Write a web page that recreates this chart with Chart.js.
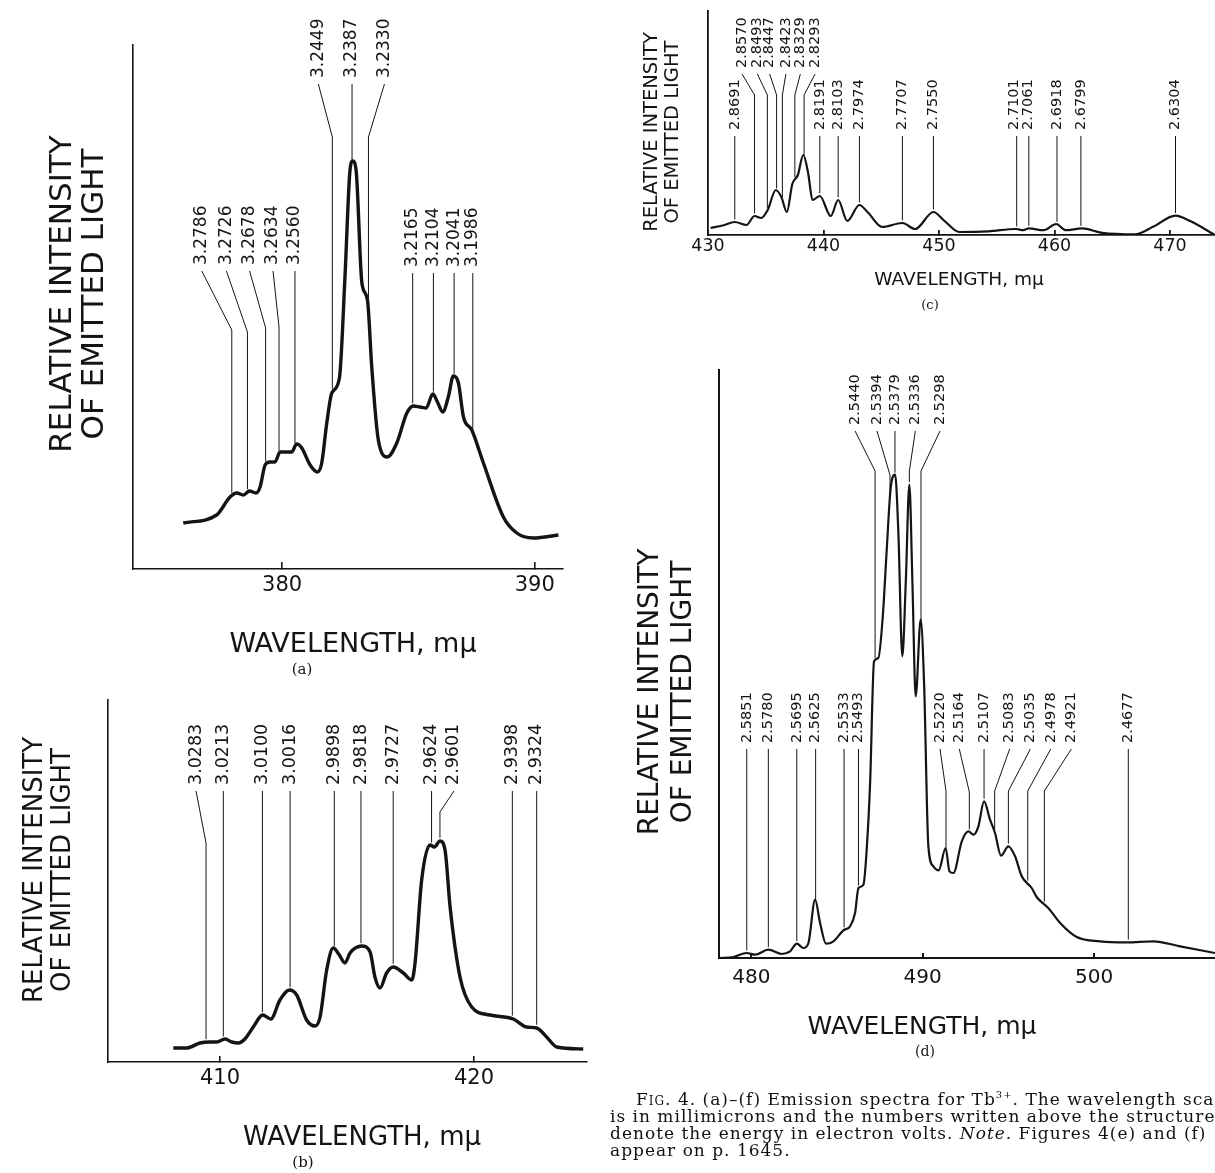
<!DOCTYPE html>
<html>
<head>
<meta charset="utf-8">
<script src="https://cdn.jsdelivr.net/npm/chart.js@4.4.1/dist/chart.umd.min.js"></script>
<style>
html, body { margin: 0; padding: 0; background: #fff; }
body { width: 1215px; height: 1173px; position: relative; overflow: hidden; }
canvas { position: absolute; left: 0; top: 0; }
#caption {
    position: absolute; left: 610px; top: 1091px;
    font-family: "DejaVu Serif"; font-size: 17px; line-height: 17px;
    letter-spacing: 1px; white-space: nowrap; color: #111;
}
#caption .sc { font-variant: small-caps; }
#caption sup { font-size: 10px; line-height: 0; }
</style>
</head>
<body>
<canvas id="chartA" width="1215" height="1173"></canvas>
<canvas id="chartB" width="1215" height="1173"></canvas>
<canvas id="chartC" width="1215" height="1173"></canvas>
<canvas id="chartD" width="1215" height="1173"></canvas>
<div id="caption">
<span style="padding-left:26px"></span><span class="sc">Fig.</span> 4. (a)–(f) Emission spectra for Tb<sup>3+</sup>. The wavelength scale<br>
is in millimicrons and the numbers written above the structure<br>
denote the energy in electron volts. <i>Note.</i> Figures 4(e) and (f)<br>
appear on p. 1645.
</div>
<script>
/*

Emission spectra of Tb3+, panels (a)-(d).
Wavelength in m\u03bc, intensity in arbitrary units.

*/

// Panel (a) data
const wlA = [376.09, 377.41, 377.94, 378.21, 378.47, 378.71, 378.97, 379.13, 379.33, 379.52, 379.72, 379.92, 380.19, 380.38, 380.58, 380.78, 381.11, 381.40, 381.57, 381.77, 381.97, 382.27, 382.49, 382.69, 382.80, 382.93, 383.16, 383.38, 383.55, 383.81, 384.17, 384.54, 384.94, 385.20, 385.46, 385.70, 385.97, 386.15, 386.36, 386.58, 386.78, 386.98, 387.18, 387.51, 387.97, 388.76, 389.29, 389.95, 390.94];
const intA = [46, 54, 72, 76, 74, 78, 76, 82, 104, 107, 107, 117, 117, 117, 125, 121, 104, 97, 106, 146, 176, 191, 292, 399, 408, 399, 286, 269, 202, 129, 112, 126, 156, 163, 162, 161, 175, 167, 157, 172, 193, 186, 152, 139, 106, 52, 36, 31, 34];
const ticksA = [380, 390];
const energyA = ['3.2786', '3.2726', '3.2678', '3.2634', '3.2560', '3.2449', '3.2387', '3.2330', '3.2165', '3.2104', '3.2041', '3.1986'];
const markA = [378.01, 378.63, 379.35, 379.88, 380.51, 381.99, 382.77, 383.42, 385.17, 385.99, 386.81, 387.55];

// Panel (b) data
const wlB = [408.16, 408.69, 409.21, 409.61, 409.87, 410.20, 410.46, 410.72, 410.98, 411.31, 411.68, 411.84, 412.00, 412.36, 412.73, 413.02, 413.41, 413.74, 413.94, 414.20, 414.46, 414.70, 414.92, 415.12, 415.58, 415.91, 416.10, 416.30, 416.56, 416.82, 417.22, 417.55, 417.68, 417.94, 418.27, 418.44, 418.66, 418.86, 419.06, 419.45, 419.91, 420.63, 421.55, 422.07, 422.47, 422.86, 423.26, 424.30];
const intB = [14, 14, 19, 20, 20, 23, 20, 19, 23, 35, 47, 45, 43, 62, 72, 67, 42, 36, 45, 92, 114, 107, 99, 109, 116, 110, 85, 74, 89, 95, 89, 82, 99, 182, 217, 215, 221, 212, 155, 85, 55, 47, 43, 35, 34, 25, 15, 13];
const ticksB = [410, 420];
const energyB = ['3.0283', '3.0213', '3.0100', '3.0016', '2.9898', '2.9818', '2.9727', '2.9624', '2.9601', '2.9398', '2.9324'];
const markB = [409.45, 410.13, 411.67, 412.76, 414.50, 415.55, 416.82, 418.33, 418.66, 421.51, 422.47];

// Panel (c) data
const wlC = [430.22, 431.27, 432.32, 433.33, 434.03, 434.60, 435.17, 435.87, 436.35, 436.83, 437.30, 437.78, 438.25, 438.67, 439.05, 439.68, 440.63, 441.27, 442.06, 443.11, 443.81, 445.08, 446.83, 447.94, 449.52, 450.48, 451.75, 454.29, 456.67, 457.30, 457.78, 459.05, 460.16, 460.95, 462.38, 464.13, 466.98, 468.57, 470.48, 471.75, 473.90];
const intC = [7, 9.5, 13, 10, 19, 17, 25, 45, 38, 23, 51, 60, 80, 62, 35, 39, 19, 35, 14, 30, 23, 8, 12, 6, 23, 14, 3, 3.7, 6, 4.8, 6.6, 4.8, 11, 4.8, 6.6, 2.2, 0.7, 8.4, 19.4, 13.9, 0];
const ticksC = [430, 440, 450, 460, 470];
const energyC = ['2.8691', '2.8570', '2.8493', '2.8447', '2.8423', '2.8329', '2.8293', '2.8191', '2.8103', '2.7974', '2.7707', '2.7550', '2.7101', '2.7061', '2.6918', '2.6799', '2.6304'];
const markC = [432.32, 434.03, 435.14, 435.94, 436.44, 437.52, 438.32, 439.68, 441.27, 443.11, 446.83, 449.52, 456.73, 457.78, 460.22, 462.29, 470.48];

// Panel (d) data
const wlD = [478.11, 478.95, 479.73, 480.21, 480.99, 481.77, 482.26, 482.65, 483.04, 483.33, 483.72, 484.01, 484.36, 484.79, 485.37, 485.76, 486.05, 486.25, 486.54, 486.73, 486.93, 487.16, 487.41, 487.67, 487.90, 488.13, 488.39, 488.58, 488.81, 489.01, 489.22, 489.40, 489.59, 489.88, 490.08, 490.33, 490.62, 490.93, 491.34, 491.56, 491.79, 492.28, 492.67, 492.96, 493.25, 493.58, 493.93, 494.22, 494.57, 495.00, 495.39, 495.78, 496.36, 496.65, 497.33, 498.02, 498.99, 500.35, 501.91, 503.46, 505.02, 507.06];
const intD = [0, 1, 5, 3.3, 8.3, 4, 6.7, 14.3, 10, 15, 58.3, 35, 14.3, 16.7, 27.7, 31.7, 45, 70, 73.3, 108.3, 175, 296.7, 300, 341.7, 408.3, 470, 483.3, 425, 301.7, 375, 473.3, 375, 261.7, 338.3, 275, 111.7, 91.7, 87.7, 110, 86.7, 85, 116.7, 126.7, 123.3, 131.7, 156.7, 138.3, 125, 102.3, 111.7, 101.7, 81.7, 70, 61, 50, 35, 21, 16.7, 15.7, 16.7, 11.7, 5];
const ticksD = [480, 490, 500];
const energyD = ['2.5851', '2.5780', '2.5695', '2.5625', '2.5533', '2.5493', '2.5440', '2.5394', '2.5379', '2.5336', '2.5298', '2.5220', '2.5164', '2.5107', '2.5083', '2.5035', '2.4978', '2.4921', '2.4677'];
const markD = [479.73, 480.99, 482.65, 483.75, 485.41, 486.25, 487.22, 488.09, 488.38, 489.22, 489.90, 491.36, 492.72, 493.58, 494.20, 495.00, 496.13, 497.10, 502.00];

// Label layout: text shift (px), text level and bend level (intensity units)
const dxA = [-30, -21, -16, -6, 0, -14, 0, 16, 0, 0, 0, 0];
const textA = [304, 304, 304, 304, 304, 491, 491, 491, 302, 302, 302, 302];
const bendA = [239, 237, 241, 242, null, 432, null, 432, null, null, null, null];

const dxB = [-10, 0, 0, 0, 0, 0, 0, 0, 14, 0, 0];
const textB = [277, 277, 277, 277, 277, 277, 277, 277, 277, 277, 277];
const bendB = [219, null, null, null, null, null, null, null, 250, null, null];

const dxC = [0, -12.5, -10, -7, 3.5, 5.5, 11, 0, 0, 0, 0, 0, -2, -1, 0, 0, 0];
const textC = [105, 167, 167, 167, 167, 167, 167, 105, 105, 105, 105, 105, 105, 105, 105, 105, 105];
const bendC = [null, 140, 140, 140, 140, 140, 140, null, null, null, null, null, null, null, null, null, null];

const dxD = [0, 0, 0, 0, 0, 0, -20, -13, 0, 6, 19, -6, -10, 0, 15, 22, 23, 27, 0];
const textD = [215, 215, 215, 215, 215, 215, 533, 533, 533, 533, 533, 215, 215, 215, 215, 215, 215, 215, 215];
const bendD = [null, null, null, null, null, null, 487, 483, null, 487, 487, 167, 166, null, 167, 167, 167, 167, null];

const INK = '#141414';

// value of the traced curve at a wavelength (for the foot of a leader line)
function curveAt(xs, ys, v) {
    for (let i = 1; i < xs.length; i++) {
        if (xs[i] >= v) {
            const t = (v - xs[i - 1]) / (xs[i] - xs[i - 1]);
            return ys[i - 1] + t * (ys[i] - ys[i - 1]);
        }
    }
    return ys[ys.length - 1];
}

// Energy labels with leader lines
const peakLabels = {
    id: 'peakLabels',
    afterDatasetsDraw(chart, args, o) {
        const ctx = chart.ctx;
        const x = chart.scales.x, y = chart.scales.y;
        ctx.save();
        ctx.strokeStyle = INK;
        ctx.fillStyle = INK;
        ctx.lineWidth = 1;
        ctx.font = o.size + 'px "DejaVu Sans"';
        for (let i = 0; i < o.labels.length; i++) {
            const fx = x.getPixelForValue(o.marks[i]);
            const fy = y.getPixelForValue(curveAt(o.xs, o.ys, o.marks[i])) - o.gap;
            const tx = fx + o.dx[i];
            const tb = y.getPixelForValue(o.text[i]);
            const top = tb + 6;
            const bent = o.bend[i] !== null && o.bend[i] !== undefined;
            ctx.beginPath();
            if (bent) {
                ctx.moveTo(tx, top);
                ctx.lineTo(fx, y.getPixelForValue(o.bend[i]));
            } else {
                ctx.moveTo(fx, top);
            }
            ctx.lineTo(fx, fy);
            ctx.stroke();

            ctx.save();
            ctx.translate(tx, tb);
            ctx.rotate(-Math.PI / 2);
            ctx.textAlign = 'left';
            ctx.textBaseline = 'middle';
            ctx.fillText(o.labels[i], 0, 0);
            ctx.restore();
        }
        ctx.restore();
    }
};

// Axis captions and panel letter
const panelText = {
    id: 'panelText',
    afterDraw(chart, args, o) {
        const ctx = chart.ctx;
        ctx.save();
        ctx.fillStyle = INK;
        ctx.textAlign = 'center';
        ctx.textBaseline = 'middle';
        ctx.font = o.ySize + 'px "DejaVu Sans"';
        for (let i = 0; i < o.yLines.length; i++) {
            ctx.save();
            ctx.translate(o.yX + i * o.yGap, o.yY);
            ctx.rotate(-Math.PI / 2);
            ctx.fillText(o.yLines[i], 0, 0);
            ctx.restore();
        }
        ctx.font = o.xSize + 'px "DejaVu Sans"';
        ctx.fillText(o.xText, o.xX, o.xY);
        ctx.font = o.tagSize + 'px "DejaVu Serif"';
        ctx.fillText(o.tag, o.tagX, o.tagY);
        ctx.restore();
    }
};

function makePanel(id, p) {
    return new Chart(document.getElementById(id), {
        type: 'line',
        data: {
            datasets: [{
                data: p.xs.map((v, i) => ({ x: v, y: p.ys[i] })),
                borderColor: INK,
                borderWidth: p.curveW,
                pointRadius: 0,
                fill: false,
                cubicInterpolationMode: 'monotone'
            }]
        },
        options: {
            responsive: false,
            animation: false,
            devicePixelRatio: 1,
            layout: { padding: p.pad },
            plugins: {
                legend: { display: false },
                tooltip: { enabled: false },
                peakLabels: {
                    labels: p.labels, marks: p.marks, xs: p.xs, ys: p.ys,
                    dx: p.dx, text: p.text, bend: p.bend, size: p.labelSize, gap: p.curveW / 2 + 1.5
                },
                panelText: p.captions
            },
            scales: {
                x: {
                    type: 'linear',
                    min: p.xmin,
                    max: p.xmax,
                    afterBuildTicks: s => { s.ticks = p.ticks.map(v => ({ value: v })); },
                    afterFit: s => { s.height = 40; },
                    grid: { display: true, drawOnChartArea: false, drawTicks: true, tickLength: -p.tickLen, color: INK, lineWidth: p.axisW },
                    border: { display: true, color: INK, width: p.axisW },
                    ticks: { autoSkip: false, maxRotation: 0, padding: p.tickPad, color: INK, font: { family: 'DejaVu Sans', size: p.tickSize } }
                },
                y: {
                    type: 'linear',
                    min: 0,
                    max: p.ymax,
                    afterFit: s => { s.width = 0; },
                    grid: { display: false },
                    border: { display: true, color: INK, width: p.axisW },
                    ticks: { display: false }
                }
            }
        },
        plugins: [peakLabels, panelText]
    });
}

const yTitle = ['RELATIVE INTENSITY', 'OF EMITTED LIGHT'];
const xTitle = 'WAVELENGTH, m\u03bc';

makePanel('chartA', {
    xs: wlA, ys: intA, ticks: ticksA, labels: energyA, marks: markA,
    dx: dxA, text: textA, bend: bendA,
    xmin: 374.10, xmax: 391.12, ymax: 524,
    pad: { left: 133, top: 45, right: 652, bottom: 564 },
    curveW: 3.4, axisW: 1.6, tickLen: 7, tickPad: 11, tickSize: 21, labelSize: 17,
    captions: { yLines: yTitle, yX: 63, yY: 294, yGap: 32, ySize: 31, xText: xTitle, xX: 353, xY: 645, xSize: 27, tag: '(a)', tagX: 302, tagY: 670, tagSize: 15 }
});

makePanel('chartB', {
    xs: wlB, ys: intB, ticks: ticksB, labels: energyB, marks: markB,
    dx: dxB, text: textB, bend: bendB,
    xmin: 405.59, xmax: 424.45, ymax: 362,
    pad: { left: 108, top: 700, right: 628, bottom: 71 },
    curveW: 3.4, axisW: 1.6, tickLen: 6, tickPad: 9.5, tickSize: 21, labelSize: 17.5,
    captions: { yLines: yTitle, yX: 35, yY: 870, yGap: 28, ySize: 26, xText: xTitle, xX: 362, xY: 1138, xSize: 26, tag: '(b)', tagX: 303, tagY: 1163, tagSize: 15 }
});

makePanel('chartC', {
    xs: wlC, ys: intC, ticks: ticksC, labels: energyC, marks: markC,
    dx: dxC, text: textC, bend: bendC,
    xmin: 430, xmax: 473.90, ymax: 224,
    pad: { left: 708, top: 11, right: 0, bottom: 898 },
    curveW: 2.2, axisW: 1.8, tickLen: 5, tickPad: 5.6, tickSize: 17.5, labelSize: 14.5,
    captions: { yLines: yTitle, yX: 652, yY: 132, yGap: 21, ySize: 19.5, xText: xTitle, xX: 959, xY: 280, xSize: 18.5, tag: '(c)', tagX: 930, tagY: 306, tagSize: 13 }
});

makePanel('chartD', {
    xs: wlD, ys: intD, ticks: ticksD, labels: energyD, marks: markD,
    dx: dxD, text: textD, bend: bendD,
    xmin: 478.11, xmax: 507.06, ymax: 588,
    pad: { left: 719, top: 370, right: 0, bottom: 175 },
    curveW: 2.2, axisW: 2, tickLen: 5, tickPad: 12.6, tickSize: 20, labelSize: 14.5,
    captions: { yLines: yTitle, yX: 651, yY: 692, yGap: 33, ySize: 28, xText: xTitle, xX: 922, xY: 1027, xSize: 25, tag: '(d)', tagX: 925, tagY: 1052, tagSize: 14 }
});
</script>
</body>
</html>
